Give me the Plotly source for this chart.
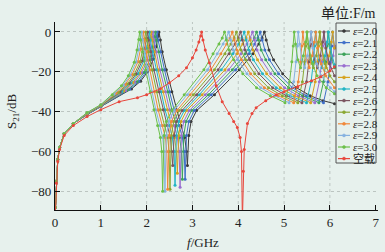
import plotly.graph_objects as go

# ---------------- data ----------------
eps_labels = ["2.0", "2.1", "2.2", "2.3", "2.4", "2.5", "2.6", "2.7", "2.8", "2.9", "3.0"]
air_label = "空载"

f_e20 = [0.01,0.03,0.06,0.1,0.2,0.4,0.7,1.0, 1.67,1.87,2.02,2.15,2.21,2.25,2.27, 2.30,2.34,2.43,2.55,2.65,2.75,2.83,2.87,2.89, 2.92,2.97,3.09,3.48,4.02,4.32,4.45,4.52,4.57, 4.61,4.67,4.77,4.97,5.27,5.57,5.85,6.10]
s_e20 = [-88,-75,-64,-58,-51,-46,-41.5,-37.5, -28.6,-24.7,-20.1,-13.6,-7.4,-2.2,0, -4,-10,-19,-30,-39,-47,-53,-60,-67, -52,-45,-39.5,-31.5,-19,-11,-6,-3,0, -4,-9,-14,-21,-28,-32,-34.5,-36]

f_e21 = [0.01,0.03,0.06,0.1,0.2,0.4,0.7,1.0, 1.63,1.83,1.98,2.11,2.17,2.21,2.23, 2.25,2.30,2.39,2.50,2.60,2.71,2.78,2.82,2.84, 2.87,2.92,3.04,3.41,3.94,4.23,4.36,4.43,4.48, 4.52,4.58,4.68,4.88,5.18,5.48,5.86,5.96,6.01,6.04,6.06,6.10]
s_e21 = [-88,-75,-64,-58,-51,-46,-41.4,-37.4, -28.8,-24.9,-20.3,-13.8,-7.5,-2.4,0, -4,-10,-19,-30,-39,-47,-53,-60,-74, -52,-45,-39.5,-31.5,-19,-11,-6,-3,0, -4,-9,-14,-21,-28,-32,-35.5,-25,-15,-7,0,-8]

f_e22 = [0.01,0.03,0.06,0.1,0.2,0.4,0.7,1.0, 1.59,1.79,1.94,2.07,2.13,2.17,2.19, 2.21,2.26,2.34,2.46,2.55,2.65,2.72,2.76,2.78, 2.81,2.86,2.98,3.35,3.87,4.15,4.28,4.35,4.40, 4.44,4.50,4.60,4.80,5.10,5.40,5.76,5.86,5.91,5.94,5.96,5.99,6.04,6.10]
s_e22 = [-88,-75,-64,-58,-51,-46,-41.3,-37.3, -29,-25,-20.4,-13.9,-7.7,-2.5,0, -4,-10,-19,-30,-39,-47,-53,-60,-74, -52,-45,-39.5,-31.5,-19,-11,-6,-3,0, -4,-9,-14,-21,-28,-32,-35.5,-25,-15,-7,0,-6,-14,-18]

f_e23 = [0.01,0.03,0.06,0.1,0.2,0.4,0.7,1.0, 1.54,1.74,1.89,2.02,2.08,2.12,2.14, 2.16,2.21,2.29,2.41,2.50,2.60,2.67,2.71,2.73, 2.76,2.81,2.93,3.28,3.79,4.06,4.19,4.26,4.31, 4.35,4.41,4.51,4.71,5.01,5.31,5.67,5.77,5.82,5.85,5.87,5.90,5.95,6.01,6.07,6.10]
s_e23 = [-88,-75,-64,-58,-51,-46,-41.2,-37.2, -29.4,-25.2,-20.6,-14.1,-7.9,-2.7,0, -4,-10,-19,-30,-39,-47,-53,-60,-78, -52,-45,-39.5,-31.5,-19,-11,-6,-3,0, -4,-9,-14,-21,-28,-32,-35.5,-25,-15,-7,0,-6,-14,-18,-12,-7]

f_e24 = [0.01,0.03,0.06,0.1,0.2,0.4,0.7,1.0, 1.50,1.70,1.85,1.98,2.04,2.08,2.10, 2.12,2.17,2.25,2.36,2.45,2.54,2.61,2.65,2.67, 2.70,2.75,2.87,3.21,3.71,3.97,4.10,4.17,4.22, 4.26,4.32,4.42,4.62,4.92,5.22,5.58,5.68,5.73,5.76,5.78,5.81,5.86,5.92,5.98,6.03,6.06,6.10]
s_e24 = [-88,-75,-64,-58,-51,-46,-41.1,-37.1, -29.6,-25.4,-20.8,-14.3,-8,-2.9,0, -4,-10,-19,-30,-39,-47,-53,-60,-71, -52,-45,-39.5,-31.5,-19,-11,-6,-3,0, -4,-9,-14,-21,-28,-32,-35.5,-25,-15,-7,0,-6,-14,-18,-12,-5,0,-8]

f_e25 = [0.01,0.03,0.06,0.1,0.2,0.4,0.7,1.0, 1.46,1.66,1.81,1.94,2.00,2.04,2.06, 2.08,2.13,2.21,2.31,2.40,2.50,2.56,2.60,2.62, 2.65,2.70,2.82,3.15,3.63,3.88,4.01,4.08,4.13, 4.17,4.23,4.33,4.53,4.83,5.13,5.49,5.59,5.64,5.67,5.69,5.72,5.77,5.83,5.89,5.94,5.97,6.01,6.10]
s_e25 = [-88,-75,-64,-58,-51,-46,-41,-37, -29.9,-25.6,-21,-14.4,-8.2,-3,0, -4,-10,-19,-30,-39,-47,-53,-60,-77, -52,-45,-39.5,-31.5,-19,-11,-6,-3,0, -4,-9,-14,-21,-28,-32,-35.5,-25,-15,-7,0,-6,-14,-18,-12,-5,0,-8,-16.5]

f_e26 = [0.01,0.03,0.06,0.1,0.2,0.4,0.7,1.0, 1.42,1.62,1.77,1.90,1.96,2.00,2.02, 2.04,2.09,2.16,2.27,2.36,2.45,2.52,2.55,2.57, 2.60,2.65,2.77,3.09,3.56,3.80,3.93,4.00,4.05, 4.09,4.15,4.25,4.45,4.75,5.05,5.39,5.49,5.54,5.57,5.59,5.62,5.67,5.73,5.79,5.84,5.87,5.91,5.99,6.10]
s_e26 = [-88,-75,-64,-58,-51,-46,-40.9,-36.9, -30.2,-25.9,-21.1,-14.6,-8.4,-3.2,0, -4,-10,-19,-30,-39,-47,-53,-60,-67, -52,-45,-39.5,-31.5,-19,-11,-6,-3,0, -4,-9,-14,-21,-28,-32,-35.5,-25,-15,-7,0,-6,-14,-18,-12,-5,0,-8,-16,-22]

f_e27 = [0.01,0.03,0.06,0.1,0.2,0.4,0.7,1.0, 1.38,1.58,1.73,1.86,1.92,1.96,1.98, 2.00,2.04,2.12,2.22,2.30,2.39,2.46,2.49,2.51, 2.54,2.59,2.71,3.02,3.48,3.71,3.84,3.91,3.96, 4.00,4.06,4.16,4.36,4.66,4.96,5.30,5.40,5.45,5.48,5.50,5.53,5.58,5.64,5.70,5.75,5.78,5.82,5.90,6.00,6.10]
s_e27 = [-88,-75,-64,-58,-51,-46,-40.8,-36.8, -30.4,-26.1,-21.3,-14.8,-8.5,-3.4,0, -4,-10,-19,-30,-39,-47,-53,-60,-79, -52,-45,-39.5,-31.5,-19,-11,-6,-3,0, -4,-9,-14,-21,-28,-32,-35.5,-25,-15,-7,0,-6,-14,-18,-12,-5,0,-8,-16,-22,-25]

f_e28 = [0.01,0.03,0.06,0.1,0.2,0.4,0.7,1.0, 1.33,1.53,1.68,1.81,1.87,1.91,1.93, 1.95,1.99,2.07,2.17,2.25,2.34,2.41,2.44,2.46, 2.49,2.54,2.66,2.95,3.40,3.62,3.75,3.82,3.87, 3.91,3.97,4.07,4.27,4.57,4.87,5.21,5.31,5.36,5.39,5.41,5.44,5.49,5.55,5.61,5.66,5.69,5.73,5.81,5.91,6.10]
s_e28 = [-88,-75,-64,-58,-51,-46,-40.7,-36.7, -30.8,-26.4,-21.5,-15,-8.7,-3.6,0, -4,-10,-19,-30,-39,-47,-53,-60,-79, -52,-45,-39.5,-31.5,-19,-11,-6,-3,0, -4,-9,-14,-21,-28,-32,-35.5,-25,-15,-7,0,-6,-14,-18,-12,-5,0,-8,-16,-22,-28]

f_e29 = [0.01,0.03,0.06,0.1,0.2,0.4,0.7,1.0, 1.29,1.49,1.64,1.77,1.83,1.87,1.89, 1.91,1.95,2.02,2.12,2.20,2.29,2.35,2.38,2.40, 2.43,2.48,2.60,2.89,3.33,3.54,3.67,3.74,3.79, 3.83,3.89,3.99,4.19,4.49,4.79,5.11,5.21,5.26,5.29,5.31,5.34,5.39,5.45,5.51,5.56,5.59,5.63,5.71,5.81,6.01,6.10]
s_e29 = [-88,-75,-64,-58,-51,-46,-40.6,-36.6, -31.1,-26.7,-21.8,-15.1,-8.9,-3.7,0, -4,-10,-19,-30,-39,-47,-53,-60,-80, -52,-45,-39.5,-31.5,-19,-11,-6,-3,0, -4,-9,-14,-21,-28,-32,-35.5,-25,-15,-7,0,-6,-14,-18,-12,-5,0,-8,-16,-22,-28,-30]

f_e30 = [0.01,0.03,0.06,0.1,0.2,0.4,0.7,1.0, 1.25,1.45,1.60,1.73,1.79,1.83,1.85, 1.87,1.91,1.98,2.08,2.16,2.24,2.30,2.33,2.35, 2.38,2.43,2.55,2.82,3.25,3.45,3.58,3.65,3.70, 3.74,3.80,3.90,4.10,4.40,4.70,5.02,5.12,5.17,5.20,5.22,5.25,5.30,5.36,5.42,5.47,5.50,5.54,5.62,5.72,5.92,6.10]
s_e30 = [-88,-75,-64,-58,-51,-46,-40.5,-36.5, -31.5,-27,-22,-15.2,-9,-3.8,0, -4,-10,-19,-30,-39,-47,-53,-60,-80, -52,-45,-39.5,-31.5,-19,-11,-6,-3,0, -4,-9,-14,-21,-28,-32,-35.5,-25,-15,-7,0,-6,-14,-18,-12,-5,0,-8,-16,-22,-28,-31]

f_air = [0.01,0.03,0.06,0.1,0.2,0.4,0.7,1.0,1.4,1.8,2.0,2.3,2.5,2.7,2.87,3.0,3.08,3.14,3.18,3.2,3.23,3.28,3.37,3.52,
         3.65,3.8,3.9,3.98,4.04,4.07,4.09,4.11,4.13,4.2,4.3,4.39,4.6,4.83,5.0,5.3,5.6,5.8,6.0,6.1]
s_air = [-90,-76,-65,-59,-52,-47,-42.5,-39,-35,-33,-31.5,-28.5,-25.5,-22,-18,-13,-9,-5,-2,0,-4,-9,-15.5,-27,
         -35,-41,-45,-48,-53,-60,-95,-70,-59,-46,-41,-38,-34.5,-31.5,-30,-27.5,-24.5,-22.5,-19.5,-17.5]

x_ticks = [0, 1, 2, 3, 4, 5, 6, 7]
y_ticks = [-80, -60, -40, -20, 0]

# ---------------- styling ----------------
eps_f = [f_e20, f_e21, f_e22, f_e23, f_e24, f_e25, f_e26, f_e27, f_e28, f_e29, f_e30]
eps_s = [s_e20, s_e21, s_e22, s_e23, s_e24, s_e25, s_e26, s_e27, s_e28, s_e29, s_e30]
eps_colors = ["#3a3a3a", "#3f6fc8", "#3ca35a", "#9a6fd0", "#d6a21e", "#22b5c5",
              "#7b5560", "#8aa832", "#f0883a", "#86b2e0", "#6cc04a"]
air_color = "#e8463c"
BG = "#e7f1ed"
GRID = "#bcc5c1"
SERIF = "Liberation Serif, Noto Sans CJK SC"

W, H = 385, 252
ML, MR, MT, MB = 55, 7, 22, 42
PW, PH = W - ML - MR, H - MT - MB


def px(x):
    return (x - ML) / PW


def py(y):
    return (H - MB - y) / PH


fig = go.Figure()
for lab, fx, sy, col in zip(eps_labels, eps_f, eps_s, eps_colors):
    fig.add_trace(go.Scatter(x=fx, y=sy, mode="lines+markers", name="ε=" + lab,
                             line=dict(color=col, width=1),
                             marker=dict(color=col, size=3), showlegend=False))
fig.add_trace(go.Scatter(x=f_air, y=s_air, mode="lines+markers", name=air_label,
                         line=dict(color=air_color, width=1),
                         marker=dict(color=air_color, size=3), showlegend=False))

shapes = []
annotations = []
# vertical dotted grid lines
for xv in x_ticks[1:-1]:
    shapes.append(dict(type="line", xref="x", yref="paper", x0=xv, x1=xv, y0=0, y1=1,
                       line=dict(color=GRID, width=1, dash="dot"), layer="below"))

# custom legend
shapes.append(dict(type="rect", xref="paper", yref="paper", x0=px(336), x1=px(376),
                   y0=py(163), y1=py(23), line=dict(color="#555555", width=1),
                   fillcolor=BG))
leg_labels = ["<i>ε</i>=" + l for l in eps_labels] + [air_label]
leg_colors = eps_colors + [air_color]
for k, (lab, col) in enumerate(zip(leg_labels, leg_colors)):
    yk = 31 + 11.6 * k
    shapes.append(dict(type="line", xref="paper", yref="paper", x0=px(338), x1=px(350),
                       y0=py(yk), y1=py(yk), line=dict(color=col, width=1.2)))
    shapes.append(dict(type="circle", xref="paper", yref="paper", x0=px(342.5), x1=px(345.5),
                       y0=py(yk + 1.5), y1=py(yk - 1.5), line=dict(color=col, width=0.5),
                       fillcolor=col))
    annotations.append(dict(xref="paper", yref="paper", x=px(351), y=py(yk), text=lab,
                            showarrow=False, xanchor="left", yanchor="middle",
                            font=dict(family=SERIF, size=11, color="#222222")))

annotations.append(dict(xref="paper", yref="paper", x=px(378), y=py(13), text="单位:F/m",
                        showarrow=False, xanchor="right", yanchor="middle",
                        font=dict(family=SERIF, size=14, color="#222222")))
annotations.append(dict(xref="paper", yref="paper", x=px(203), y=py(242), text="<i>f</i>/GHz",
                        showarrow=False, xanchor="center", yanchor="middle",
                        font=dict(family=SERIF, size=13, color="#222222")))
annotations.append(dict(xref="paper", yref="paper", x=px(12), y=py(112), text="S<sub>21</sub>/dB",
                        showarrow=False, xanchor="center", yanchor="middle", textangle=-90,
                        font=dict(family=SERIF, size=13, color="#222222")))

fig.update_layout(
    width=W, height=H, autosize=False,
    margin=dict(l=ML, r=MR, t=MT, b=MB, pad=0),
    paper_bgcolor=BG, plot_bgcolor=BG,
    showlegend=False,
    shapes=shapes, annotations=annotations,
    xaxis=dict(range=[0, 7.05], tickvals=x_ticks, ticks="inside", ticklen=5, tickwidth=1,
               tickcolor="#111111", showline=True, linecolor="#111111", linewidth=1.3,
               showgrid=False, zeroline=False,
               tickfont=dict(family=SERIF, size=13, color="#222222")),
    yaxis=dict(range=[-89.4, 5], tickvals=y_ticks, ticks="inside", ticklen=5, tickwidth=1,
               tickcolor="#111111", showline=True, linecolor="#111111", linewidth=1.3,
               showgrid=True, gridcolor=GRID, griddash="dot", gridwidth=1,
               zeroline=False,
               tickfont=dict(family=SERIF, size=13, color="#222222")),
)

fig.write_html("out.html", config={"displayModeBar": False},
               post_script="document.body.style.margin='0';document.body.style.padding='0';"
                           "document.body.style.background='" + BG + "';")
